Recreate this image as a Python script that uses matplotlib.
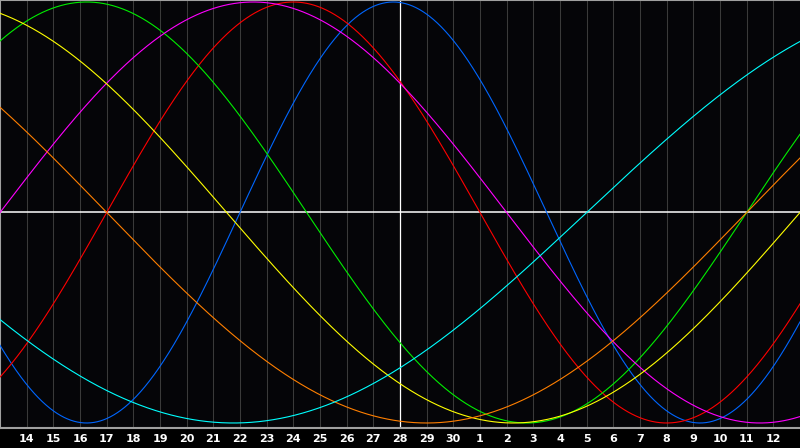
import numpy as np
import matplotlib
matplotlib.use("Agg")
import matplotlib.pyplot as plt

# Biorhythm cycles (period in days) and their colours
cycle_names = ["physical", "emotional", "intellectual", "intuitive", "aesthetic", "awareness", "spiritual"]
periods = [23, 28, 33, 38, 43, 48, 53]
colors = ["#0066ff", "#ff0000", "#00ee00", "#ff00ff", "#ffff00", "#ff7f00", "#00ffff"]

# days alive at the left edge of the chart (day 13)
days_alive_start = 26372
day_labels = [14, 15, 16, 17, 18, 19, 20, 21, 22, 23, 24, 25, 26, 27, 28, 29, 30,
              1, 2, 3, 4, 5, 6, 7, 8, 9, 10, 11, 12]
today_index = 15  # day 28
n_days = 30

W, H = 800, 448
fig = plt.figure(figsize=(W / 100, H / 100), dpi=100, facecolor="#000000")
ax = fig.add_axes([0, 20 / H, 1.0, 428 / H])
ax.set_facecolor("#050508")

t = np.linspace(0, n_days, 1201)
for p, c in zip(periods, colors):
    ax.plot(t, np.sin(2 * np.pi * (days_alive_start + t) / p), color=c, lw=0.8, zorder=3)

# day grid
for k in range(1, len(day_labels) + 1):
    ax.axvline(k, color="#3a3a3a", lw=0.75, zorder=1)
ax.axhline(0, color="#ffffff", lw=1.1, zorder=2)
ax.axvline(today_index, color="#ffffff", lw=0.9, zorder=2)

ax.set_xlim(0, n_days)
ax.set_ylim(-1.0238, 1.0095)
ax.set_xticks(range(1, len(day_labels) + 1))
ax.set_xticklabels([str(d) for d in day_labels], color="white", fontsize=8, fontweight="bold",
                   fontfamily="DejaVu Sans")
ax.tick_params(axis="x", length=0, pad=4.5)
ax.set_yticks([])
for s in ["left", "top", "bottom"]:
    ax.spines[s].set_color("#a0a0a0")
    ax.spines[s].set_linewidth(1.5)
ax.spines["right"].set_visible(False)

fig.savefig("out.png", dpi=100, facecolor="#000000")
